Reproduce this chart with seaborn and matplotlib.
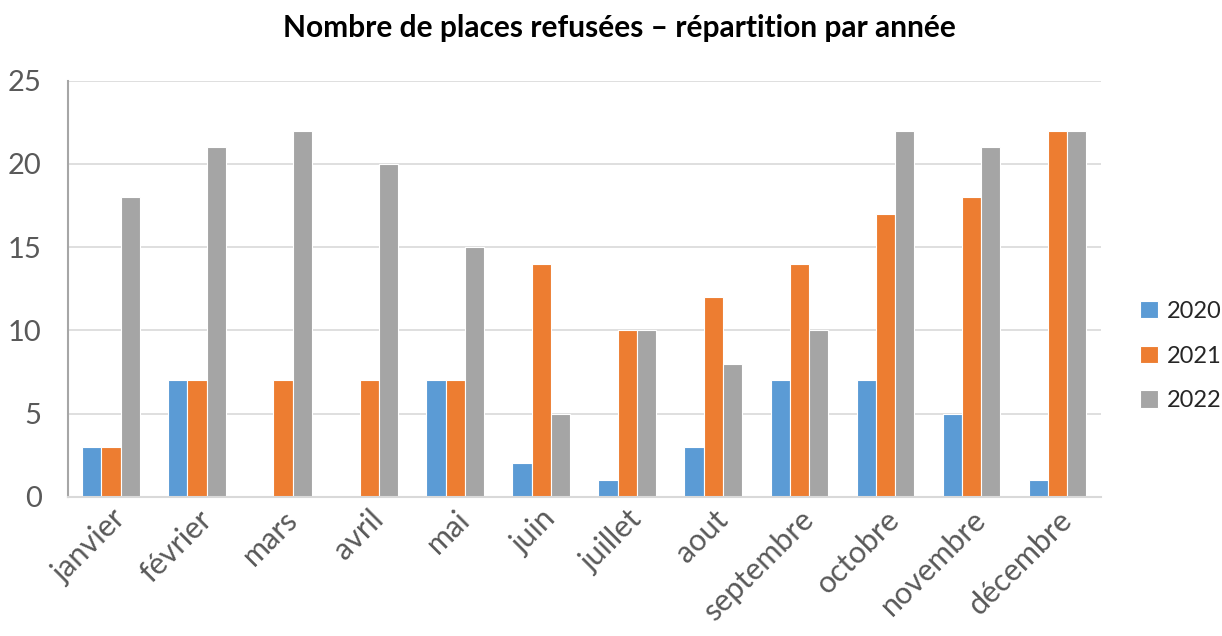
import matplotlib
matplotlib.use("Agg")
import matplotlib.pyplot as plt
import pandas as pd
import seaborn as sns

months = ["janvier", "février", "mars", "avril", "mai", "juin", "juillet",
          "aout", "septembre", "octobre", "novembre", "décembre"]
years = ["2020", "2021", "2022"]
v2020 = [3, 7, 0, 0, 7, 2, 1, 3, 7, 7, 5, 1]
v2021 = [3, 7, 7, 7, 7, 14, 10, 12, 14, 17, 18, 22]
v2022 = [18, 21, 22, 20, 15, 5, 10, 8, 10, 22, 21, 22]
colors = ["#5B9BD5", "#ED7D31", "#A5A5A5"]

sns.set_theme(style="white")
plt.rcParams["font.family"] = ["Lato", "DejaVu Sans"]

df = pd.DataFrame({
    "mois": months * 3,
    "annee": [y for y in years for _ in months],
    "valeur": v2020 + v2021 + v2022,
})

fig = plt.figure(figsize=(12.22, 6.36), dpi=100)
ax = fig.add_axes([0.0556, 0.219, 0.845, 0.654])

sns.barplot(data=df, x="mois", y="valeur", hue="annee", order=months,
            hue_order=years, palette=colors, width=0.67, gap=0,
            edgecolor="white", linewidth=0.8, saturation=1, ax=ax)

ax.set_ylim(0, 25)
ax.set_xlim(-0.5, 11.5)
ax.set_yticks([0, 5, 10, 15, 20, 25])
ax.yaxis.grid(True, color="#D9D9D9", linewidth=1.2)
ax.set_axisbelow(True)
ax.set_xlabel("")
ax.set_ylabel("")
for s in ["top", "right"]:
    ax.spines[s].set_visible(False)
ax.spines["left"].set_color("#A6A6A6")
ax.spines["left"].set_linewidth(1.5)
ax.spines["bottom"].set_color("#D9D9D9")
ax.spines["bottom"].set_linewidth(1.5)
ax.tick_params(axis="y", labelsize=21, labelcolor="#595959", length=0, pad=19)
ax.tick_params(axis="x", labelsize=22, labelcolor="#595959", length=0, pad=6)
plt.setp(ax.get_xticklabels(), rotation=45, ha="right", rotation_mode="anchor")

fig.text(0.507, 0.956, "Nombre de places refusées – répartition par année",
         fontsize=21.5, fontweight="bold", color="black",
         ha="center", va="center")

handles, labels = ax.get_legend_handles_labels()
ax.get_legend().remove()
fig.legend(handles, labels, loc="center left", bbox_to_anchor=(0.933, 0.44),
           frameon=False, fontsize=17, handlelength=0.75, handleheight=0.75,
           labelspacing=1.0, handletextpad=0.4, borderpad=0, borderaxespad=0)

fig.savefig("out.png", dpi=100)
